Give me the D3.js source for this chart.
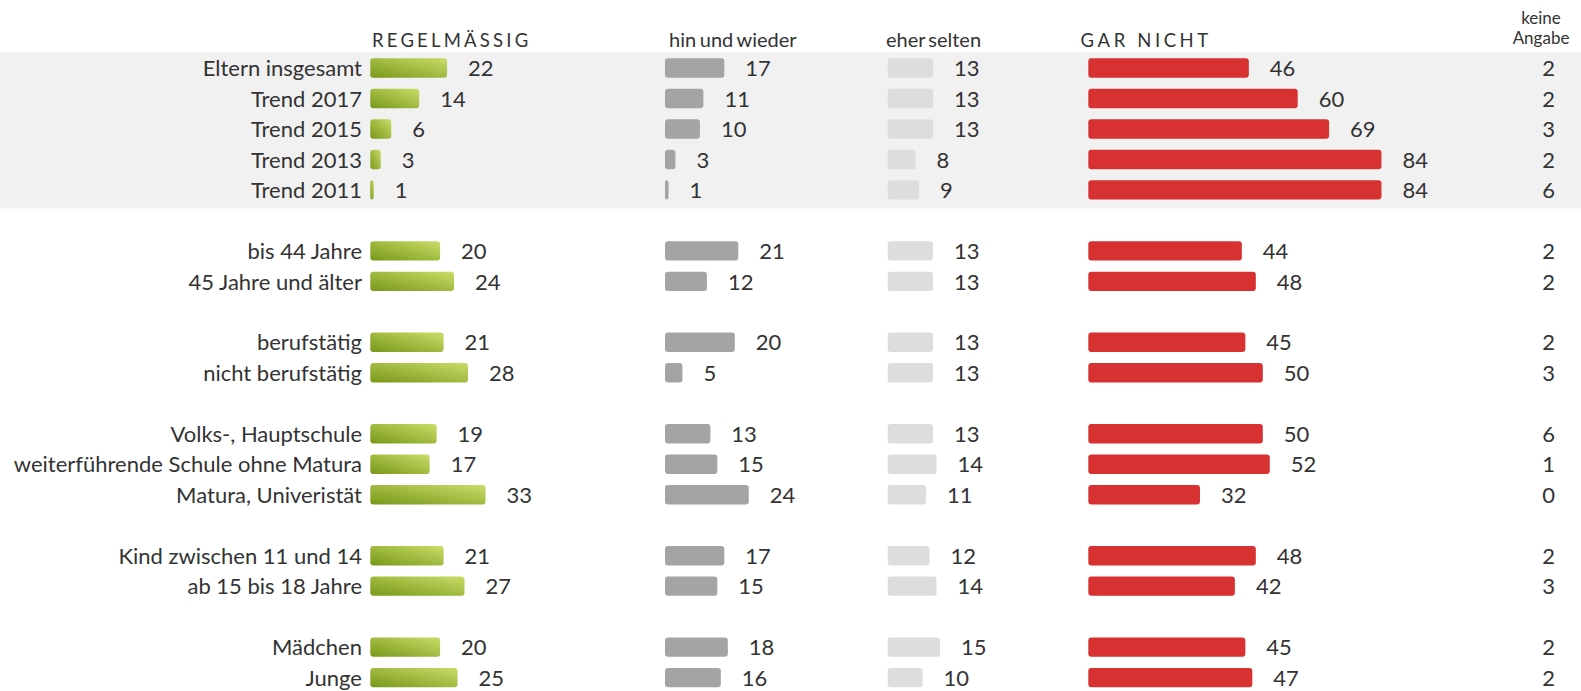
<!DOCTYPE html>
<html>
<head>
<meta charset="utf-8">
<script src="https://cdn.jsdelivr.net/npm/d3@7"></script>
<style>
  body { margin: 0; background: #fff; }
  text { font-family: Lato, "Open Sans", sans-serif; fill: #333; }
</style>
</head>
<body>
<div id="chart"></div>
<script>
"use strict";

// rows of the table
var categories = ["Eltern insgesamt", "Trend 2017", "Trend 2015", "Trend 2013", "Trend 2011",
  "bis 44 Jahre", "45 Jahre und älter",
  "berufstätig", "nicht berufstätig",
  "Volks-, Hauptschule", "weiterführende Schule ohne Matura", "Matura, Univeristät",
  "Kind zwischen 11 und 14", "ab 15 bis 18 Jahre",
  "Mädchen", "Junge"];
var groups = [0, 0, 0, 0, 0, 1, 1, 2, 2, 3, 3, 3, 4, 4, 5, 5];

var regelmaessig = [22, 14, 6, 3, 1, 20, 24, 21, 28, 19, 17, 33, 21, 27, 20, 25];
var hinUndWieder = [17, 11, 10, 3, 1, 21, 12, 20, 5, 13, 15, 24, 17, 15, 18, 16];
var eherSelten = [13, 13, 13, 8, 9, 13, 13, 13, 13, 13, 14, 11, 12, 14, 15, 10];
var garNicht = [46, 60, 69, 84, 84, 44, 48, 45, 50, 50, 52, 32, 48, 42, 45, 47];
var keineAngabe = [2, 2, 3, 2, 6, 2, 2, 2, 3, 6, 1, 0, 2, 3, 2, 2];

var headers = ["REGELMÄSSIG", "hin und wieder", "eher selten", "GAR NICHT"];

var width = 1581,
    height = 691;

var svg = d3.select('#chart').append('svg')
  .attr('width', width)
  .attr('height', height);

// green bars get a diagonal gradient
var grad = svg.append('defs').append('linearGradient')
  .attr('id', 'greenGrad')
  .attr('x1', 0).attr('y1', 1).attr('x2', 1).attr('y2', 0);
grad.append('stop').attr('offset', '0%').attr('stop-color', '#789819');
grad.append('stop').attr('offset', '100%').attr('stop-color', '#c9dd68');

// slot = row index plus one empty row per group break
var slotFn = function(d, i) { return i + groups[i]; };

var yScale = d3.scaleLinear()
  .domain([0, 20])
  .range([68, 677.6]);

var xScale = d3.scaleLinear()
  .domain([0, 100])
  .range([0, 349]);

var barHeight = 19.4;
var fontSize = '22px';

// grey band behind the trend rows
svg.append('rect')
  .attr('x', 0)
  .attr('width', width)
  .attr('y', yScale(0) - 15.7)
  .attr('height', yScale(4) - yScale(0) + 15.7 + 18.5)
  .style('fill', '#f1f1f1');

var columns = [
  { values: regelmaessig, x: 370.3, fill: 'url(#greenGrad)', hx: 372, size: 18.5, spacing: 3.2, words: 0 },
  { values: hinUndWieder, x: 665, fill: '#a4a4a4', hx: 669, size: 20, spacing: 0, words: -1.5 },
  { values: eherSelten, x: 887.7, fill: '#dddddd', hx: 886, size: 20, spacing: 0, words: -2 },
  { values: garNicht, x: 1088.3, fill: '#d83131', hx: 1080.5, size: 18.5, spacing: 3.6, words: 0 }
];

columns.forEach(function(col, c) {
  var g = svg.append('g').attr('transform', 'translate(' + col.x + ',0)');

  g.selectAll('rect').data(col.values)
    .enter().append('rect')
      .attr('x', 0)
      .attr('y', function(d, i) { return yScale(slotFn(d, i)) - barHeight / 2; })
      .attr('width', function(d) { return xScale(d); })
      .attr('height', barHeight)
      .attr('rx', 3)
      .style('fill', col.fill);

  g.selectAll('text.val').data(col.values)
    .enter().append('text')
      .attr('class', 'val')
      .attr('x', function(d) { return xScale(d) + 21; })
      .attr('y', function(d, i) { return yScale(slotFn(d, i)); })
      .attr('dy', '0.37em')
      .style('font-size', fontSize)
      .text(function(d) { return d; });

  svg.append('text')
    .attr('x', col.hx)
    .attr('y', 47.3)
    .style('font-size', col.size + 'px')
    .style('letter-spacing', col.spacing + 'px')
    .style('word-spacing', col.words + 'px')
    .text(headers[c]);
});

// row labels
svg.selectAll('text.cat').data(categories)
  .enter().append('text')
    .attr('class', 'cat')
    .attr('x', 362)
    .attr('y', function(d, i) { return yScale(slotFn(d, i)); })
    .attr('dy', '0.37em')
    .attr('text-anchor', 'end')
    .style('font-size', fontSize)
    .text(function(d) { return d; });

// keine Angabe column
svg.selectAll('text.ka').data(keineAngabe)
  .enter().append('text')
    .attr('class', 'ka')
    .attr('x', 1555)
    .attr('y', function(d, i) { return yScale(slotFn(d, i)); })
    .attr('dy', '0.37em')
    .attr('text-anchor', 'end')
    .style('font-size', fontSize)
    .text(function(d) { return d; });

svg.append('text')
  .attr('x', 1541)
  .attr('y', 23.5)
  .attr('text-anchor', 'middle')
  .style('font-size', '17px')
  .text('keine');
svg.append('text')
  .attr('x', 1541)
  .attr('y', 43.7)
  .attr('text-anchor', 'middle')
  .style('font-size', '17px')
  .text('Angabe');
</script>
</body>
</html>
